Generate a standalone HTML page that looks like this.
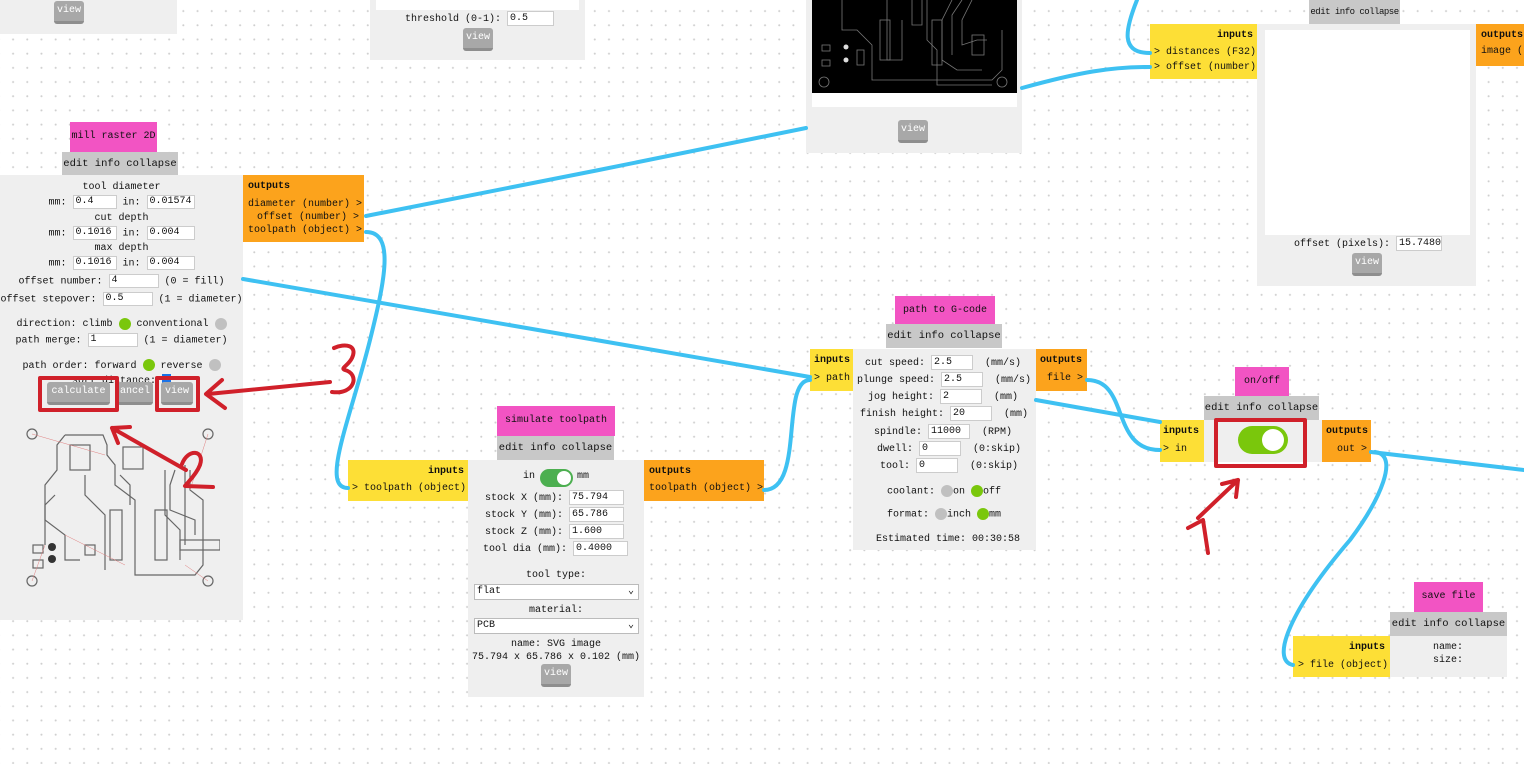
<!DOCTYPE html>
<html><head><meta charset="utf-8"><style>
*{margin:0;padding:0;box-sizing:border-box;white-space:nowrap}
body{width:1524px;height:764px;overflow:hidden;position:relative;background:#fff;
background-image:radial-gradient(circle,#cfcfcf 0.8px,transparent 1.2px);background-size:14.2px 14.2px;background-position:6px 4px;
font-family:"Liberation Mono",monospace;font-size:10px;color:#111}
.a{position:absolute}
.pk{position:absolute;background:#f254c3;text-align:center;line-height:30px}
.hd{position:absolute;background:#c8c8c8;text-align:center;line-height:24px;font-size:10.5px}
.bd{position:absolute;background:#efefef}
.in{position:absolute;background:#fddf36;padding:4px 4px;line-height:16px}
.out{position:absolute;background:#fca31c;padding:4px 5px;line-height:16px}
.b{font-weight:bold}
.btn{position:absolute;background:#a8a8a8;color:#fff;border-radius:3px;text-align:center;line-height:20px;height:23px;border-bottom:3px solid #8e8e8e}
.ip{display:inline-block;background:#fff;border:1px solid #ccc;height:15px;line-height:13px;padding-left:2px;vertical-align:middle;text-align:left}
.m .ip{height:14px;line-height:12px}
.row{position:absolute;white-space:pre}
.dot{display:inline-block;width:12px;height:12px;border-radius:6px;vertical-align:middle}
.g{background:#7ac70c}.gr{background:#c0c0c0}
</style></head><body>

<!-- top left panel -->
<div class="bd" style="left:0;top:0;width:177px;height:34px"></div>
<div class="btn" style="left:54px;top:1px;width:30px">view</div>

<!-- top middle -->
<div class="bd" style="left:370px;top:0;width:215px;height:60px"></div>
<div class="a" style="left:376px;top:0;width:203px;height:10px;background:#fff"></div>
<div class="row" style="left:405px;top:11px">threshold (0-1): <span class="ip" style="width:47px">0.5</span></div>
<div class="btn" style="left:463px;top:28px;width:30px">view</div>

<!-- pcb panel -->
<div class="bd" style="left:806px;top:0;width:216px;height:153px"></div>
<div class="a" style="left:812px;top:0;width:205px;height:107px;background:#fff"></div>
<svg class="a" style="left:812px;top:0" width="205" height="93"><rect width="205" height="93" fill="#000"/>
<g stroke="#777" fill="none" stroke-width="0.8">
<path d="M30 0 V30 H45 L60 45 V80 H180 L190 70 V30"/><path d="M75 0 V60 H90 V20"/><path d="M115 0 V40 L125 50 V85 L180 85"/>
<path d="M140 0 L130 20 V60 L145 70 H170"/><path d="M150 0 L140 15 V55"/><path d="M160 0 L150 20 V45 L165 40 H175"/>
<path d="M100 0 V25 H110 V0"/><circle cx="12" cy="82" r="5"/><circle cx="190" cy="82" r="5"/>
<rect x="10" y="45" width="8" height="6"/><rect x="10" y="60" width="8" height="6"/><rect x="45" y="50" width="7" height="15"/>
<rect x="68" y="20" width="10" height="40"/><rect x="120" y="20" width="10" height="45"/><rect x="160" y="35" width="12" height="20"/></g>
<circle cx="34" cy="47" r="2.5" fill="#ddd"/><circle cx="34" cy="60" r="2.5" fill="#ddd"/></svg>
<div class="btn" style="left:898px;top:120px;width:30px">view</div>

<!-- top right node -->
<div class="hd" style="left:1309px;top:0;width:91px;font-size:9px;letter-spacing:-0.5px">edit info collapse</div>
<div class="in" style="left:1150px;top:24px;width:107px;height:55px;line-height:15px"><div class="b" style="text-align:right">inputs</div><div style="margin-top:2px">&gt; distances (F32)</div><div>&gt; offset (number)</div></div>
<div class="bd" style="left:1257px;top:24px;width:219px;height:262px"></div>
<div class="a" style="left:1265px;top:30px;width:205px;height:205px;background:#fff"></div>
<div class="row" style="left:1294px;top:236px">offset (pixels): <span class="ip" style="width:46px">15.7480</span></div>
<div class="btn" style="left:1352px;top:253px;width:30px">view</div>
<div class="out" style="left:1476px;top:24px;width:48px;height:42px;overflow:hidden"><div class="b">outputs</div><div>image (</div></div>

<!-- mill raster 2D -->
<div class="pk" style="left:70px;top:122px;width:87px">mill raster 2D</div>
<div class="hd" style="left:62px;top:152px;width:116px">edit info collapse</div>
<div class="bd" style="left:0;top:175px;width:243px;height:445px"></div>
<div class="a m" style="left:0;top:180px;width:243px;text-align:center;line-height:15px">
<div>tool diameter</div>
<div>mm: <span class="ip" style="width:44px">0.4</span>  in: <span class="ip" style="width:48px">0.01574</span></div>
<div>cut depth</div>
<div>mm: <span class="ip" style="width:44px">0.1016</span>  in: <span class="ip" style="width:48px">0.004</span></div>
<div>max depth</div>
<div>mm: <span class="ip" style="width:44px">0.1016</span>  in: <span class="ip" style="width:48px">0.004</span></div>
<div style="margin-top:2px">offset number: <span class="ip" style="width:50px">4</span>  (0 = fill)</div>
<div style="margin-top:2px">offset stepover: <span class="ip" style="width:50px">0.5</span>  (1 = diameter)</div>
<div style="margin-top:10px">direction: climb <span class="dot g"></span> conventional <span class="dot gr"></span></div>
<div style="margin-top:1px">path merge: <span class="ip" style="width:50px">1</span>  (1 = diameter)</div>
<div style="margin-top:10px">path order: forward <span class="dot g"></span> reverse <span class="dot gr"></span></div>
<div style="line-height:12px">sort distance: <span style="display:inline-block;width:9px;height:9px;background:#1a73e8"></span></div>
</div>
<div class="btn" style="left:47px;top:382px;width:63px">calculate</div>
<div class="btn" style="left:117px;top:382px;width:36px">ancel</div>
<div class="btn" style="left:161px;top:382px;width:32px">view</div>
<svg class="a" style="left:25px;top:425px" width="195" height="170"><g stroke="#666" fill="none" stroke-width="1.2">
<circle cx="7" cy="9" r="5"/><circle cx="183" cy="9" r="5"/><circle cx="7" cy="156" r="5"/><circle cx="183" cy="156" r="5"/>
<path d="M40 10 H78 L82 20 V30 L90 40 V60 L110 75 V150 H170 L178 140 V75 L165 65 V45"/><path d="M40 10 L32 20 V45 L20 60 V120"/>
<path d="M30 70 L20 80 V95 L40 110 V135 H55"/><path d="M60 50 V70 L80 90 V145"/><path d="M95 50 L105 60 V80"/>
<path d="M140 45 V90 L155 105 V135"/><path d="M150 45 L145 60 V85 L170 95 V110"/><path d="M160 40 V120"/>
<rect x="45" y="20" width="20" height="25"/><rect x="98" y="22" width="20" height="22"/><rect x="85" y="85" width="12" height="50"/><rect x="130" y="85" width="12" height="50"/>
<rect x="8" y="120" width="10" height="8"/><rect x="8" y="135" width="10" height="8"/><rect x="60" y="120" width="10" height="10"/><rect x="155" y="115" width="40" height="10"/></g>
<circle cx="27" cy="122" r="4" fill="#333"/><circle cx="27" cy="134" r="4" fill="#333"/>
<g stroke="#e08080" stroke-width="0.5"><path d="M7 9 L80 30 M183 9 L165 65 M7 156 L20 120 M183 156 L160 140 M40 110 L100 140"/></g></svg>
<div class="out" style="left:243px;top:175px;width:121px;height:67px;line-height:13px;padding-top:5px"><div class="b" style="margin-bottom:5px">outputs</div><div>diameter (number) &gt;</div><div style="text-align:right">offset (number) &gt;</div><div>toolpath (object) &gt;</div></div>

<!-- simulate toolpath -->
<div class="pk" style="left:497px;top:406px;width:118px">simulate toolpath</div>
<div class="hd" style="left:497px;top:436px;width:117px">edit info collapse</div>
<div class="bd" style="left:468px;top:460px;width:176px;height:237px"></div>
<div class="in" style="left:348px;top:460px;width:120px;height:41px;padding-top:3px;line-height:17px"><div class="b" style="text-align:right">inputs</div><div>&gt; toolpath (object)</div></div>
<div class="out" style="left:644px;top:460px;width:120px;height:41px;padding-top:3px;line-height:17px"><div class="b">outputs</div><div>toolpath (object) &gt;</div></div>
<div class="row" style="left:523px;top:471px">in</div>
<div class="a" style="left:540px;top:469px;width:33px;height:18px;border-radius:9px;background:#4caf50"><div style="position:absolute;right:2px;top:2px;width:14px;height:14px;border-radius:7px;background:#fff"></div></div>
<div class="row" style="left:577px;top:471px">mm</div>
<div class="a" style="left:468px;top:490px;width:176px;line-height:17px;text-align:right;padding-right:20px">
<div>stock X (mm): <span class="ip" style="width:55px">75.794</span></div>
<div>stock Y (mm): <span class="ip" style="width:55px">65.786</span></div>
<div>stock Z (mm): <span class="ip" style="width:55px">1.600</span></div>
<div style="margin-right:-4px">tool dia (mm): <span class="ip" style="width:55px">0.4000</span></div></div>
<div class="row" style="left:468px;top:570px;width:176px;text-align:center">tool type:</div>
<div class="a" style="left:474px;top:584px;width:165px;height:16px;background:#fff;border:1px solid #bbb;line-height:14px;padding-left:2px">flat<span style="position:absolute;right:4px">⌄</span></div>
<div class="row" style="left:468px;top:605px;width:176px;text-align:center">material:</div>
<div class="a" style="left:474px;top:618px;width:165px;height:16px;background:#fff;border:1px solid #bbb;line-height:14px;padding-left:2px">PCB<span style="position:absolute;right:4px">⌄</span></div>
<div class="row" style="left:468px;top:638px;width:176px;text-align:center;line-height:13px">name: SVG image
75.794 x 65.786 x 0.102 (mm)</div>
<div class="btn" style="left:541px;top:664px;width:30px">view</div>

<!-- path to G-code -->
<div class="pk" style="left:895px;top:296px;width:100px">path to G-code</div>
<div class="hd" style="left:886px;top:324px;width:116px">edit info collapse</div>
<div class="bd" style="left:853px;top:349px;width:183px;height:201px"></div>
<div class="in" style="left:810px;top:349px;width:43px;height:42px;padding:3px 4px;line-height:18px"><div class="b">inputs</div><div>&gt; path</div></div>
<div class="out" style="left:1036px;top:349px;width:51px;height:42px;padding:3px 4px;line-height:18px"><div class="b">outputs</div><div style="text-align:right">file &gt;</div></div>
<div class="a" style="left:853px;top:355px;width:183px;line-height:17px">
<div class="row" style="position:relative;left:12px">cut speed: <span class="ip" style="width:42px">2.5</span>  (mm/s)</div>
<div class="row" style="position:relative;left:4px">plunge speed: <span class="ip" style="width:42px">2.5</span>  (mm/s)</div>
<div class="row" style="position:relative;left:15px">jog height: <span class="ip" style="width:42px">2</span>  (mm)</div>
<div class="row" style="position:relative;left:7px">finish height: <span class="ip" style="width:42px">20</span>  (mm)</div>
<div class="row" style="position:relative;left:21px">spindle: <span class="ip" style="width:42px">11000</span>  (RPM)</div>
<div class="row" style="position:relative;left:24px">dwell: <span class="ip" style="width:42px">0</span>  (0:skip)</div>
<div class="row" style="position:relative;left:27px">tool: <span class="ip" style="width:42px">0</span>  (0:skip)</div></div>
<div class="row" style="left:887px;top:485px">coolant: <span class="dot gr"></span>on <span class="dot g"></span>off</div>
<div class="row" style="left:887px;top:508px">format: <span class="dot gr"></span>inch <span class="dot g"></span>mm</div>
<div class="row" style="left:876px;top:534px">Estimated time: 00:30:58</div>

<!-- on/off -->
<div class="pk" style="left:1235px;top:367px;width:54px">on/off</div>
<div class="hd" style="left:1204px;top:396px;width:115px">edit info collapse</div>
<div class="bd" style="left:1204px;top:420px;width:119px;height:42px"></div>
<div class="in" style="left:1160px;top:420px;width:44px;height:42px;padding:3px 3px;line-height:18px"><div class="b">inputs</div><div>&gt; in</div></div>
<div class="out" style="left:1322px;top:420px;width:49px;height:42px;padding:3px 4px;line-height:18px"><div class="b">outputs</div><div style="text-align:right">out &gt;</div></div>
<div class="a" style="left:1238px;top:426px;width:50px;height:28px;border-radius:14px;background:#7ac70c"><div style="position:absolute;right:4px;top:3px;width:22px;height:22px;border-radius:11px;background:#fff"></div></div>

<!-- save file -->
<div class="pk" style="left:1414px;top:582px;width:69px">save file</div>
<div class="hd" style="left:1390px;top:612px;width:117px">edit info collapse</div>
<div class="bd" style="left:1390px;top:636px;width:117px;height:41px"></div>
<div class="in" style="left:1293px;top:636px;width:97px;height:41px;padding:3px 5px;line-height:18px"><div class="b" style="text-align:right">inputs</div><div>&gt; file (object)</div></div>
<div class="row" style="left:1433px;top:641px;line-height:13px">name:
size:</div>

<!-- wires -->
<svg class="a" style="left:0;top:0" width="1524" height="764"><g fill="none" stroke="#3ec1f2" stroke-width="4" stroke-linecap="round">
<path d="M366 216 C450 200 700 150 806 128"/>
<path d="M366 232 C395 232 385 280 370 340 C350 420 320 488 348 488"/>
<path d="M243 279 L810 377"/>
<path d="M764 490 C805 490 780 380 810 380"/>
<path d="M1087 380 C1130 380 1110 450 1160 450"/>
<path d="M1036 400 L1160 422"/>
<path d="M1371 452 L1524 470"/>
<path d="M1375 452 C1400 455 1380 500 1350 540 C1290 610 1270 660 1293 665"/>
<path d="M1137 0 C1125 30 1120 53 1150 53"/>
<path d="M1022 88 C1080 72 1110 67 1150 67"/>
</g>
<g fill="none" stroke="#d0202a" stroke-width="4" stroke-linecap="round" stroke-linejoin="round">
<rect x="40" y="378" width="77" height="32"/><rect x="157" y="378" width="41" height="32"/>
<rect x="1216" y="420" width="89" height="46"/>
<path d="M330 382 L208 394 M222 380 L206 394 L225 408"/>
<path d="M334 348 C345 343 358 345 352 358 C348 366 340 368 345 370 C360 374 355 395 332 392"/>
<path d="M186 470 L112 428 M112 428 L130 427 M112 428 L118 443"/>
<path d="M182 464 C188 448 205 450 200 465 C196 475 188 482 185 486 L213 487"/>
<path d="M1198 518 L1238 480 M1238 480 L1222 484 M1238 480 L1236 497"/>
<path d="M1188 528 L1203 520 L1208 553"/>
</g></svg>
</body></html>
